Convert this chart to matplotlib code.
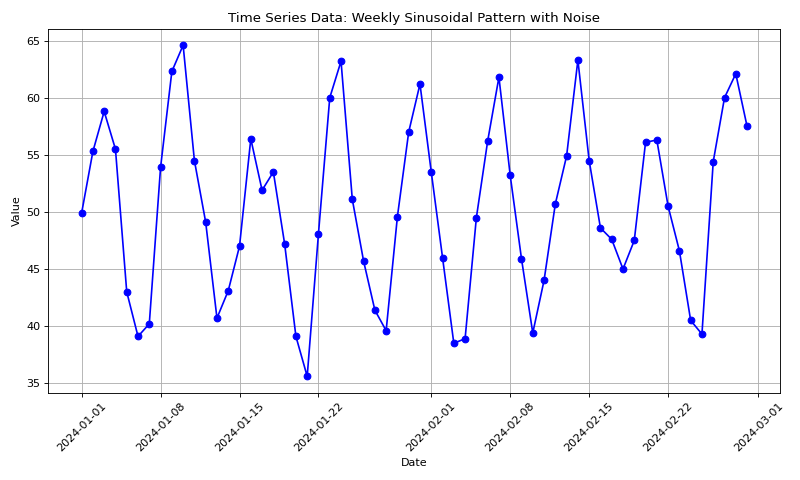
import numpy as np
import pandas as pd
import matplotlib
matplotlib.use("Agg")
import matplotlib.pyplot as plt

dates = pd.date_range("2024-01-01", "2024-02-29", freq="D")
values = [49.9, 55.3, 58.8, 55.5, 43.0, 39.1, 40.2, 53.9, 62.3, 64.6,
          54.5, 49.1, 40.7, 43.1, 47.0, 56.4, 51.9, 53.5, 47.2, 39.1,
          35.6, 48.1, 60.0, 63.2, 51.1, 45.7, 41.4, 39.6, 49.6, 57.0,
          61.2, 53.5, 46.0, 38.5, 38.9, 49.5, 56.2, 61.8, 53.2, 45.9,
          39.4, 44.0, 50.7, 54.9, 63.3, 54.5, 48.6, 47.6, 45.0, 47.5,
          56.1, 56.3, 50.5, 46.6, 40.5, 39.3, 54.4, 60.0, 62.1, 57.5]

fig = plt.figure(figsize=(10, 6), dpi=80)
plt.plot(dates, values, marker='o', linestyle='-', color='b')
plt.title('Time Series Data: Weekly Sinusoidal Pattern with Noise')
plt.xlabel('Date')
plt.ylabel('Value')
plt.grid(True)
plt.xticks(rotation=45)
plt.tight_layout()
plt.savefig('out.png')
